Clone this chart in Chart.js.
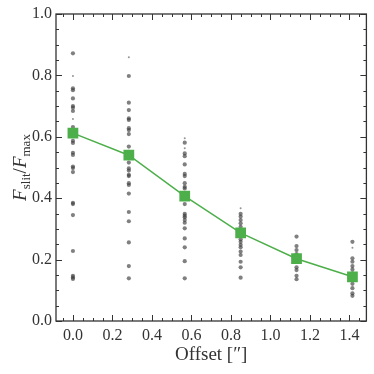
<!DOCTYPE html>
<html lang="en">
<head>
  <meta charset="UTF-8" />
  <title>Slit flux vs offset</title>
  <script src="https://cdn.jsdelivr.net/npm/chart.js"></script>
  <style>
    html, body { margin: 0; padding: 0; background: #fff; }
    #wrap { width: 374px; height: 374px; }
  </style>
</head>
<body>
<div id="wrap"><canvas id="chart"></canvas></div>
<script>
  // offsets of each slit position (arcsec)
  const offsets = [0.0, 0.283, 0.566, 0.849, 1.132, 1.415];
  // median flux ratio per offset (green squares)
  const medianRatio = [0.612, 0.540, 0.407, 0.287, 0.203, 0.144];

  // individual measurements per offset (grey dots)
  const col0 = [0.872, 0.758, 0.752, 0.725, 0.700, 0.695, 0.684, 0.632, 0.606, 0.587, 0.580, 0.548, 0.541, 0.503, 0.498, 0.485, 0.385, 0.381, 0.345, 0.228, 0.147, 0.142, 0.137];
  const col1 = [0.798, 0.711, 0.687, 0.660, 0.655, 0.628, 0.622, 0.609, 0.568, 0.551, 0.516, 0.497, 0.490, 0.476, 0.472, 0.449, 0.443, 0.415, 0.355, 0.325, 0.256, 0.179, 0.139];
  const col2 = [0.581, 0.546, 0.537, 0.510, 0.479, 0.472, 0.449, 0.437, 0.432, 0.381, 0.349, 0.343, 0.338, 0.329, 0.320, 0.302, 0.269, 0.240, 0.195, 0.139];
  const col3 = [0.349, 0.340, 0.329, 0.318, 0.307, 0.286, 0.266, 0.258, 0.248, 0.240, 0.226, 0.215, 0.193, 0.175, 0.141];
  const col4 = [0.275, 0.244, 0.231, 0.218, 0.208, 0.193, 0.175, 0.166, 0.147, 0.136];
  const col5 = [0.258, 0.204, 0.193, 0.179, 0.168, 0.155, 0.134, 0.121, 0.107, 0.090, 0.082];
  const columns = [col0, col1, col2, col3, col4, col5];
  // faint tiny measurements
  const tiny0 = [0.798, 0.658];
  const tiny1 = [0.859];
  const tiny2 = [0.595, 0.563];
  const tiny3 = [0.367];
  const tiny4 = [];
  const tiny5 = [0.239];
  const tinyColumns = [tiny0, tiny1, tiny2, tiny3, tiny4, tiny5];

  const xTicks = [0.0, 0.2, 0.4, 0.6, 0.8, 1.0, 1.2, 1.4];
  const yTicks = [0.0, 0.2, 0.4, 0.6, 0.8, 1.0];

  const toPoints = cols => cols.flatMap((c, i) => c.map(v => ({ x: offsets[i], y: v })));

  const ink = '#333333';
  const serif = "'Liberation Serif', 'DejaVu Serif', serif";

  // frame + inward major/minor ticks on all four sides, and y title with subscripts
  const framePlugin = {
    id: 'frame',
    afterDraw(chart) {
      const { ctx, chartArea: a, scales: { x, y } } = chart;
      ctx.save();
      ctx.strokeStyle = ink;
      ctx.lineWidth = 1;
      const tick = (px, py, dx, dy) => {
        ctx.beginPath(); ctx.moveTo(px, py); ctx.lineTo(px + dx, py + dy); ctx.stroke();
      };
      for (let v = -0.05; v <= 1.5; v += 0.05) {
        const px = Math.round(x.getPixelForValue(v)) + 0.5;
        if (px < a.left || px > a.right) continue;
        const major = Math.abs(v / 0.2 - Math.round(v / 0.2)) < 1e-6;
        const len = major ? 6 : 3;
        tick(px, a.bottom, 0, -len);
        tick(px, a.top, 0, len);
      }
      for (let v = 0; v <= 1.0001; v += 0.05) {
        const py = Math.round(y.getPixelForValue(v)) + 0.5;
        const major = Math.abs(v / 0.2 - Math.round(v / 0.2)) < 1e-6;
        const len = major ? 6 : 3;
        tick(a.left, py, len, 0);
        tick(a.right, py, -len, 0);
      }
      ctx.lineWidth = 1.3;
      ctx.strokeRect(a.left, a.top, a.right - a.left, a.bottom - a.top);

      // y axis title: F_slit / F_max
      ctx.translate(20, (a.top + a.bottom) / 2);
      ctx.rotate(-Math.PI / 2);
      ctx.fillStyle = ink;
      ctx.textBaseline = 'alphabetic';
      const big = "italic 19px 'Liberation Serif', serif";
      const small = "13px 'Liberation Serif', serif";
      const upright = "19px 'Liberation Serif', serif";
      const parts = [[big, 'F', 0], [small, 'slit', 4], [upright, '/', 0], [big, 'F', 0], [small, 'max', 4]];
      let w = 0;
      parts.forEach(([f, t]) => { ctx.font = f; w += ctx.measureText(t).width; });
      let cx = -w / 2;
      parts.forEach(([f, t, dy]) => {
        ctx.font = f; ctx.fillText(t, cx, 6 + dy); cx += ctx.measureText(t).width;
      });
      ctx.restore();
    }
  };

  new Chart(document.getElementById('chart'), {
    data: {
      datasets: [
        {
          type: 'scatter',
          data: toPoints(columns),
          pointRadius: 2.1,
          pointBorderWidth: 0,
          pointBackgroundColor: 'rgba(60,60,60,0.65)',
          order: 3
        },
        {
          type: 'scatter',
          data: toPoints(tinyColumns),
          pointRadius: 1,
          pointBorderWidth: 0,
          pointBackgroundColor: 'rgba(60,60,60,0.55)',
          order: 2
        },
        {
          type: 'line',
          data: offsets.map((o, i) => ({ x: o, y: medianRatio[i] })),
          borderColor: '#4daf4a',
          borderWidth: 1.5,
          pointStyle: 'rect',
          pointRadius: 7.6,
          pointBackgroundColor: '#4daf4a',
          pointBorderWidth: 0,
          tension: 0,
          order: 1
        }
      ]
    },
    options: {
      responsive: true,
      maintainAspectRatio: false,
      animation: false,
      layout: { padding: { top: 14, right: 6, left: 0, bottom: 0 } },
      plugins: { legend: { display: false }, tooltip: { enabled: false } },
      scales: {
        x: {
          type: 'linear',
          min: -0.0857,
          max: 1.4857,
          afterBuildTicks: s => { s.ticks = xTicks.map(v => ({ value: v })); },
          afterFit: s => { s.height = 53; },
          grid: { display: false, drawTicks: false },
          border: { display: false },
          ticks: { color: ink, font: { family: serif, size: 16 }, padding: 5, callback: v => v.toFixed(1), maxRotation: 0 },
          title: { display: true, text: 'Offset [\u2033]', color: ink, font: { family: serif, size: 19 }, padding: { top: 1, bottom: 8 } }
        },
        y: {
          min: 0,
          max: 1,
          afterBuildTicks: s => { s.ticks = yTicks.map(v => ({ value: v })); },
          afterFit: s => { s.width = 56; },
          grid: { display: false, drawTicks: false },
          border: { display: false },
          ticks: { color: ink, font: { family: serif, size: 16 }, padding: 4, callback: v => v.toFixed(1) }
        }
      }
    },
    plugins: [framePlugin]
  });
</script>
</body>
</html>
